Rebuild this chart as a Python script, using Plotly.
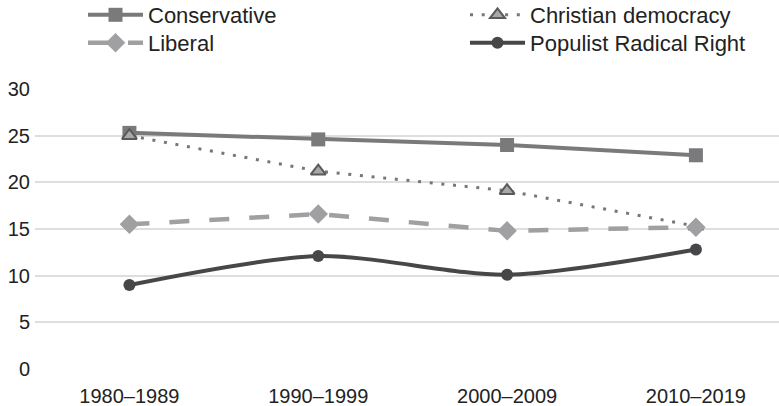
import plotly.graph_objects as go

periods = ["1980–1989", "1990–1999", "2000–2009", "2010–2019"]
conservative = [25.3, 24.6, 24.0, 22.9]
christian_democracy = [25.0, 21.2, 19.1, 15.3]
liberal = [15.5, 16.6, 14.8, 15.2]
populist_radical_right = [9.0, 12.1, 10.1, 12.8]
y_ticks = [0, 5, 10, 15, 20, 25, 30]

W, H = 779, 406
ML, MB = 35, 37
PW, PH = W - ML, H - MB          # paper area in pixels
PLOT_TOP = 89                    # pixel y of the top of the y axis


def px_x(x):
    return (x - ML) / PW


def px_y(y):
    return (PH - y) / PH


fig = go.Figure()
fig.add_trace(go.Scatter(
    x=periods, y=conservative, name="Conservative", mode="lines+markers",
    line=dict(color="#7a7a7c", width=4),
    marker=dict(symbol="square", size=14, color="#7a7a7c"),
    legend="legend",
))
fig.add_trace(go.Scatter(
    x=periods, y=christian_democracy, name="Christian democracy", mode="lines+markers",
    line=dict(color="#77777a", width=3, dash="3px,8.7px"),
    marker=dict(symbol="triangle-up", size=13, color="#a8a8a8",
                line=dict(color="#5a5a5c", width=2)),
    legend="legend2",
))
fig.add_trace(go.Scatter(
    x=periods, y=liberal, name="Liberal", mode="lines+markers",
    line=dict(color="#a0a0a2", width=4.5, dash="20px,20px"),
    marker=dict(symbol="diamond", size=15, color="#a0a0a2"),
    legend="legend3",
))
fig.add_trace(go.Scatter(
    x=periods, y=populist_radical_right, name="Populist Radical Right", mode="lines+markers",
    line=dict(color="#474749", width=4, shape="spline", smoothing=0.8),
    marker=dict(symbol="circle", size=12, color="#474749"),
    legend="legend4",
))

legend_common = dict(
    orientation="v", xanchor="left", yanchor="middle", itemwidth=55,
    font=dict(size=22), tracegroupgap=0, bgcolor="rgba(0,0,0,0)",
)
fig.update_layout(
    width=W, height=H,
    margin=dict(l=ML, r=0, t=0, b=MB, autoexpand=False),
    paper_bgcolor="white", plot_bgcolor="white",
    font=dict(family="Liberation Sans, Arial, sans-serif", size=20, color="#222"),
    showlegend=True,
    legend=dict(x=px_x(83), y=px_y(15), **legend_common),
    legend2=dict(x=px_x(465), y=px_y(15), **legend_common),
    legend3=dict(x=px_x(83), y=px_y(43), **legend_common),
    legend4=dict(x=px_x(465), y=px_y(43), **legend_common),
)
fig.update_xaxes(
    range=[-0.5, 3.44], showgrid=False, showline=False, ticks="",
    tickfont=dict(size=20), ticklabelstandoff=13, automargin=False,
)
fig.update_yaxes(
    domain=[0, (PH - PLOT_TOP) / PH],
    range=[0, 30], tickvals=y_ticks, showgrid=True, gridcolor="#dedede", gridwidth=2,
    zeroline=False, showline=False, ticks="", tickfont=dict(size=20),
    ticklabelstandoff=4, automargin=False,
)
fig.write_html(
    "out.html",
    config={"displayModeBar": False},
    post_script="document.body.style.margin='0';document.body.style.overflow='hidden';",
)
